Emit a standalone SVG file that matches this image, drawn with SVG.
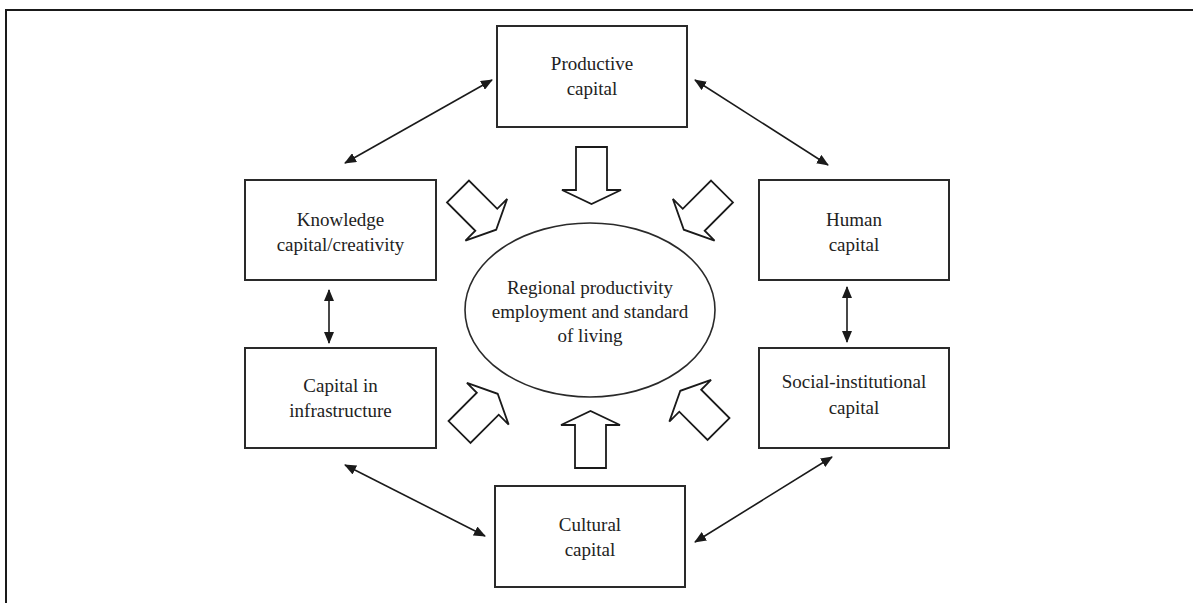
<svg xmlns="http://www.w3.org/2000/svg" width="1193" height="603" viewBox="0 0 1193 603">
<style>
  .box { fill: #fff; stroke: #2a2a2a; stroke-width: 2; }
  .ell { fill: #fff; stroke: #2a2a2a; stroke-width: 1.6; }
  .lbl { font-family: "Liberation Serif", "Times New Roman", serif; font-size: 19px; fill: #222; text-anchor: middle; }
  .conn { stroke: #1a1a1a; stroke-width: 1.6; fill: none; marker-start: url(#ah); marker-end: url(#ah); }
  .blk { fill: #fff; stroke: #1a1a1a; stroke-width: 1.8; stroke-linejoin: miter; }
</style>
<defs>
  <marker id="ah" viewBox="0 0 12 10" refX="11" refY="5" markerWidth="12" markerHeight="10" markerUnits="userSpaceOnUse" orient="auto-start-reverse">
    <path d="M0,0 L12,5 L0,10 Z" fill="#1a1a1a"/>
  </marker>
  <path id="blockArrow" d="M-15.5,0 L15.5,0 L15.5,43 L29.5,43 L0,57 L-29.5,43 L-15.5,43 Z"/>
  <path id="blockArrowD" d="M-15.5,0 L15.5,0 L15.5,40 L29.5,40 L0,54 L-29.5,40 L-15.5,40 Z"/>
</defs>
<rect width="1193" height="603" fill="#fff"/>
<rect id="frame" x="6" y="10" width="1200" height="610" fill="none" stroke="#1a1a1a" stroke-width="2"/>

<g id="connectors">
  <line class="conn" x1="345" y1="163" x2="492" y2="80"/>
  <line class="conn" x1="695" y1="80" x2="828" y2="165"/>
  <line class="conn" x1="329" y1="290" x2="329" y2="343"/>
  <line class="conn" x1="847" y1="287" x2="847" y2="342"/>
  <line class="conn" x1="345" y1="465" x2="485" y2="536"/>
  <line class="conn" x1="832" y1="457" x2="695" y2="542"/>
  <use href="#blockArrow" class="blk" transform="translate(591.5,147)"/>
  <use href="#blockArrow" class="blk" transform="translate(590.5,468) rotate(180)"/>
  <use href="#blockArrowD" class="blk" transform="translate(458,191.5) rotate(-45)"/>
  <use href="#blockArrowD" class="blk" transform="translate(722,191.5) rotate(45)"/>
  <use href="#blockArrowD" class="blk" transform="translate(459.5,432) rotate(-135)"/>
  <use href="#blockArrowD" class="blk" transform="translate(718.5,429) rotate(135)"/>
</g>

<g id="node-productive">
  <rect class="box" x="497" y="26" width="190" height="101"/>
  <text class="lbl" x="592" y="70">Productive</text>
  <text class="lbl" x="592" y="95">capital</text>
</g>
<g id="node-knowledge">
  <rect class="box" x="245" y="180" width="191" height="100"/>
  <text class="lbl" x="340.5" y="226">Knowledge</text>
  <text class="lbl" x="340.5" y="251">capital/creativity</text>
</g>
<g id="node-human">
  <rect class="box" x="759" y="180" width="190" height="100"/>
  <text class="lbl" x="854" y="226">Human</text>
  <text class="lbl" x="854" y="251">capital</text>
</g>
<g id="node-infrastructure">
  <rect class="box" x="245" y="348" width="191" height="100"/>
  <text class="lbl" x="340.5" y="392">Capital in</text>
  <text class="lbl" x="340.5" y="417">infrastructure</text>
</g>
<g id="node-social">
  <rect class="box" x="759" y="348" width="190" height="100"/>
  <text class="lbl" x="854" y="388">Social-institutional</text>
  <text class="lbl" x="854" y="414">capital</text>
</g>
<g id="node-cultural">
  <rect class="box" x="495" y="486" width="190" height="101"/>
  <text class="lbl" x="590" y="531">Cultural</text>
  <text class="lbl" x="590" y="556">capital</text>
</g>
<g id="node-center">
  <ellipse class="ell" cx="590" cy="310" rx="125" ry="87"/>
  <text class="lbl" x="590" y="294">Regional productivity</text>
  <text class="lbl" x="590" y="318">employment and standard</text>
  <text class="lbl" x="590" y="342">of living</text>
</g>
</svg>
